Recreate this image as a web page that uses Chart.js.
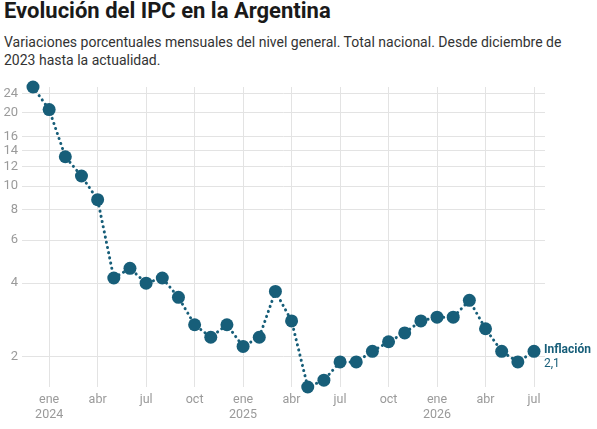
<!DOCTYPE html>
<html>
<head>
<meta charset="utf-8">
<script src="https://cdn.jsdelivr.net/npm/chart.js@4"></script>
<style>
  html, body { margin:0; padding:0; background:#fff; }
  body { width:597px; height:429px; position:relative; overflow:hidden; font-family: Roboto, "Noto Sans", sans-serif; }
  #title { position:absolute; left:4px; top:-2px; font-size:22px; font-weight:700; color:#1a1a1a; line-height:26px; white-space:nowrap; }
  #sub { position:absolute; left:4px; top:33px; width:590px; font-size:14px; color:#333; line-height:18px; }
  #wrap { position:absolute; left:0; top:0; width:597px; height:429px; }
</style>
</head>
<body>
<div id="title">Evolución del IPC en la Argentina</div>
<div id="sub">Variaciones porcentuales mensuales del nivel general. Total nacional. Desde diciembre de 2023 hasta la actualidad.</div>
<div id="wrap"><canvas id="c"></canvas></div>
<script>
// Months from Dec 2023 to Jul 2026
const months = ["dic 2023","ene 2024","feb 2024","mar 2024","abr 2024","may 2024","jun 2024","jul 2024","ago 2024","sep 2024","oct 2024","nov 2024","dic 2024",
  "ene 2025","feb 2025","mar 2025","abr 2025","may 2025","jun 2025","jul 2025","ago 2025","sep 2025","oct 2025","nov 2025","dic 2025",
  "ene 2026","feb 2026","mar 2026","abr 2026","may 2026","jun 2026","jul 2026"];
const inflation = [25.5,20.6,13.2,11.0,8.8,4.2,4.6,4.0,4.2,3.5,2.7,2.4,2.7,
  2.2,2.4,3.7,2.8,1.5,1.6,1.9,1.9,2.1,2.3,2.5,2.8,
  2.9,2.9,3.4,2.6,2.1,1.9,2.1];
// x-axis tick positions (index into months) and labels
const xTickIdx = [1,4,7,10,13,16,19,22,25,28,31];
const xTickLabels = [["ene","2024"],"abr","jul","oct",["ene","2025"],"abr","jul","oct",["ene","2026"],"abr","jul"];
const yTicks = [2,4,6,8,10,12,14,16,20,24];
const seriesName = "Inflación";

const TEAL = "#175e79";
const GRID = "#e3e3e3";
const TICK = "#9a9a9a";

const endLabel = {
  id: "endLabel",
  afterDatasetsDraw(chart) {
    const meta = chart.getDatasetMeta(0);
    const pt = meta.data[meta.data.length - 1];
    const v = inflation[inflation.length - 1];
    const ctx = chart.ctx;
    ctx.save();
    ctx.fillStyle = TEAL;
    ctx.textAlign = "left";
    ctx.textBaseline = "middle";
    ctx.font = "bold 12px Roboto";
    ctx.fillText(seriesName, pt.x + 10, pt.y - 1);
    ctx.font = "12px Roboto";
    ctx.fillText(String(v).replace(".", ","), pt.x + 10, pt.y + 13);
    ctx.restore();
  }
};

new Chart(document.getElementById("c"), {
  type: "line",
  data: {
    datasets: [{
      label: seriesName,
      data: inflation.map((v, i) => ({ x: i, y: v })),
      borderColor: TEAL,
      backgroundColor: TEAL,
      borderWidth: 3,
      borderDash: [0.1, 5.2],
      borderCapStyle: "round",
      pointRadius: 6.5,
      pointBorderWidth: 0,
      pointBackgroundColor: TEAL,
      tension: 0,
      clip: false
    }]
  },
  options: {
    responsive: true,
    maintainAspectRatio: false,
    animation: false,
    layout: { padding: { top: 87, right: 52, bottom: 0, left: 0 } },
    plugins: { legend: { display: false }, tooltip: { enabled: false } },
    scales: {
      x: {
        type: "linear",
        min: -0.68,
        max: months.length - 1 + 0.68,
        afterBuildTicks(scale) { scale.ticks = xTickIdx.map(v => ({ value: v })); },
        afterFit(scale) { scale.height = 42; },
        grid: { color: GRID, drawTicks: false, lineWidth: 1 },
        border: { display: false },
        ticks: {
          padding: 6,
          color: TICK,
          font: { family: "Roboto", size: 12.5, lineHeight: 1.15 },
          maxRotation: 0,
          autoSkip: false,
          callback(value) { const k = xTickIdx.indexOf(value); return k >= 0 ? xTickLabels[k] : ""; }
        }
      },
      y: {
        type: "logarithmic",
        min: Math.min(...inflation),
        max: Math.max(...inflation),
        afterBuildTicks(scale) { scale.ticks = yTicks.map(v => ({ value: v })); },
        afterFit(scale) { scale.width = 22; },
        grid: { color: GRID, drawTicks: false, lineWidth: 1 },
        border: { display: false },
        ticks: {
          padding: 4,
          color: TICK,
          font: { family: "Roboto", size: 13 },
          autoSkip: false,
          callback(value) { return String(value); }
        }
      }
    }
  },
  plugins: [endLabel]
});
</script>
</body>
</html>
